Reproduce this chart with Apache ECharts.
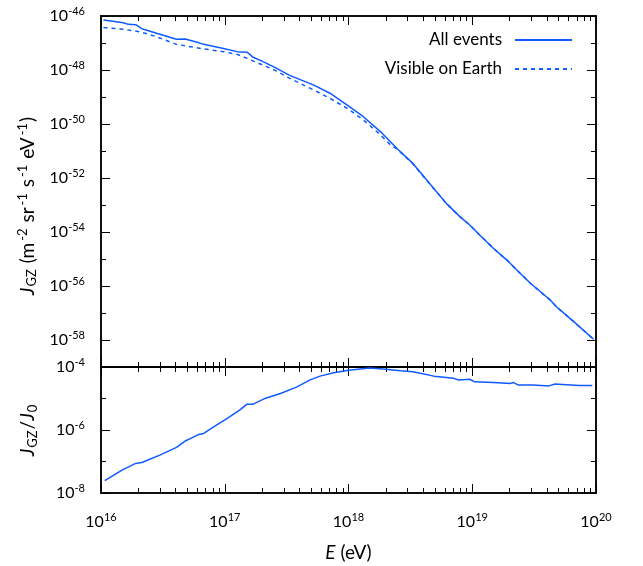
<!DOCTYPE html>
<html>
<head>
<meta charset="utf-8">
<script src="https://cdn.jsdelivr.net/npm/echarts@6/dist/echarts.min.js"></script>
<style>
html, body { margin: 0; padding: 0; background: #fff; }
#chart { width: 643px; height: 566px; }
</style>
</head>
<body>
<div id="chart"></div>
<script>
// all values are powers of ten (log10)
var eAll = [16.02, 16.18, 16.22, 16.28, 16.33, 16.45, 16.61, 16.68, 16.77, 16.83, 16.99, 17.10, 17.18, 17.23, 17.31, 17.42, 17.52, 17.72, 17.85, 17.99, 18.12, 18.26, 18.39, 18.52, 18.62, 18.79, 18.90, 18.98, 19.06, 19.17, 19.28, 19.36, 19.47, 19.63, 19.68, 19.82, 19.98];
var jAll = [-46.15, -46.25, -46.31, -46.32, -46.47, -46.64, -46.86, -46.85, -46.96, -47.05, -47.20, -47.32, -47.34, -47.53, -47.69, -47.94, -48.19, -48.56, -48.86, -49.30, -49.73, -50.29, -50.90, -51.46, -52.01, -52.94, -53.43, -53.74, -54.11, -54.60, -55.04, -55.41, -55.90, -56.52, -56.77, -57.32, -57.97];

var eVis = [16.02, 16.18, 16.32, 16.45, 16.61, 16.83, 16.99, 17.10, 17.18, 17.31, 17.42, 17.50, 17.58, 17.72, 17.85, 17.99, 18.12, 18.26, 18.34, 18.39, 18.52, 18.62, 18.79, 18.90, 18.98, 19.06, 19.17, 19.28, 19.36, 19.47, 19.63, 19.68, 19.82, 19.98];
var jVis = [-46.43, -46.49, -46.59, -46.77, -47.05, -47.22, -47.32, -47.42, -47.57, -47.82, -48.04, -48.25, -48.43, -48.74, -49.05, -49.42, -49.85, -50.41, -50.78, -50.92, -51.47, -52.02, -52.94, -53.43, -53.74, -54.11, -54.60, -55.04, -55.41, -55.90, -56.52, -56.77, -57.32, -57.97];

var eRatio = [16.03, 16.18, 16.22, 16.28, 16.33, 16.48, 16.61, 16.68, 16.73, 16.79, 16.83, 16.91, 17.02, 17.12, 17.18, 17.23, 17.33, 17.45, 17.58, 17.69, 17.77, 17.88, 18.00, 18.17, 18.28, 18.42, 18.52, 18.58, 18.69, 18.85, 18.89, 18.98, 19.02, 19.17, 19.31, 19.33, 19.37, 19.49, 19.62, 19.67, 19.76, 19.87, 19.97];
var ratio = [-7.61, -7.25, -7.18, -7.06, -7.03, -6.79, -6.55, -6.35, -6.26, -6.14, -6.11, -5.90, -5.63, -5.37, -5.18, -5.18, -4.99, -4.84, -4.64, -4.41, -4.29, -4.18, -4.10, -4.03, -4.06, -4.12, -4.15, -4.20, -4.29, -4.36, -4.41, -4.39, -4.47, -4.49, -4.52, -4.49, -4.57, -4.57, -4.60, -4.54, -4.56, -4.59, -4.59];

// tick positions (exponents)
var xMajor = [16, 17, 18, 19, 20];
var topMajor = [-58, -56, -54, -52, -50, -48, -46];
var topMinor = [-57, -55, -53, -51, -49, -47];
var botMajor = [-8, -6, -4];
var botMinor = [-7, -5];
var xMinor = [];
for (var n = 16; n < 20; n++) {
  for (var k = 2; k <= 9; k++) xMinor.push(n + Math.log10(k));
}

var FONT = 'Lato, "Open Sans", sans-serif';
var BLUE = '#0f5bff';

var powRich = {
  b: { fontFamily: FONT, fontSize: 16, color: '#000', lineHeight: 20 },
  s: { fontFamily: FONT, fontSize: 11, color: '#000', lineHeight: 10, verticalAlign: 'top' }
};
function powLabel(v) {
  return '{b|10}{s|' + Math.round(v) + '}';
}
var nameRich = {
  t: { fontFamily: FONT, fontSize: 19, color: '#000', lineHeight: 22 },
  i: { fontFamily: FONT, fontSize: 19, fontStyle: 'italic', color: '#000', lineHeight: 22 },
  sub: { fontFamily: FONT, fontSize: 13, color: '#000', lineHeight: 12, verticalAlign: 'bottom', padding: [0, 1, 0, 1] },
  sup: { fontFamily: FONT, fontSize: 13, color: '#000', lineHeight: 12, verticalAlign: 'top', padding: [0, 1, 0, 2] }
};

function axis(grid, pos, min, max, ticks, len, labels) {
  return {
    type: 'value', gridIndex: grid, position: pos, min: min, max: max,
    axisLine: { show: true, onZero: false, lineStyle: { color: '#000', width: 1.5 } },
    axisTick: { show: true, inside: true, length: len, customValues: ticks, lineStyle: { color: '#000', width: 1 } },
    axisLabel: labels ? { show: true, customValues: ticks, margin: labels, formatter: powLabel, rich: powRich } : { show: false },
    splitLine: { show: false }
  };
}

var xAxes = [
  axis(0, 'bottom', 16, 20, xMajor, 9, 0),
  axis(0, 'bottom', 16, 20, xMinor, 5, 0),
  axis(0, 'top', 16, 20, xMajor, 9, 0),
  axis(0, 'top', 16, 20, xMinor, 5, 0),
  axis(1, 'bottom', 16, 20, xMajor, 9, 19),
  axis(1, 'bottom', 16, 20, xMinor, 5, 0),
  axis(1, 'top', 16, 20, xMajor, 9, 0),
  axis(1, 'top', 16, 20, xMinor, 5, 0)
];
xAxes[4].name = '{i|E}{t| (eV)}';
xAxes[4].nameLocation = 'middle';
xAxes[4].nameGap = 49;
xAxes[4].nameTextStyle = { rich: nameRich };

var yAxes = [
  axis(0, 'left', -59, -46, topMajor, 9, 16),
  axis(0, 'left', -59, -46, topMinor, 5, 0),
  axis(0, 'right', -59, -46, topMajor, 9, 0),
  axis(0, 'right', -59, -46, topMinor, 5, 0),
  axis(1, 'left', -8, -4, botMajor, 9, 16),
  axis(1, 'left', -8, -4, botMinor, 5, 0),
  axis(1, 'right', -8, -4, botMajor, 9, 0),
  axis(1, 'right', -8, -4, botMinor, 5, 0)
];
yAxes[0].name = '{i|J}{sub|GZ}{t| (m}{sup|-2}{t| sr}{sup|-1}{t| s}{sup|-1}{t| eV}{sup|-1}{t|)}';
yAxes[4].name = '{i|J}{sub|GZ}{t|/}{i|J}{sub|0}';
[0, 4].forEach(function (i) {
  yAxes[i].nameLocation = 'middle';
  yAxes[i].nameRotate = 90;
  yAxes[i].nameGap = 62;
  yAxes[i].nameTextStyle = { rich: nameRich };
});
yAxes[0].nameTextStyle.padding = [0, 29, 0, 0];

function pairs(xs, ys) {
  return xs.map(function (x, i) { return [x, ys[i]]; });
}

var chart = echarts.init(document.getElementById('chart'));
chart.setOption({
  animation: false,
  backgroundColor: '#fff',
  grid: [
    { left: 101, right: 47, top: 16, height: 351 },
    { left: 101, right: 47, top: 367, height: 126 }
  ],
  legend: {
    data: ['All events', 'Visible on Earth'],
    orient: 'vertical', align: 'right', right: 70, top: 30, padding: 0,
    itemWidth: 57, itemHeight: 14, itemGap: 9,
    itemStyle: { opacity: 0 },
    textStyle: { fontFamily: FONT, fontSize: 17, color: '#000', lineHeight: 20, padding: [0, 8, 0, 0] }
  },
  xAxis: xAxes,
  yAxis: yAxes,
  series: [
    {
      name: 'All events', type: 'line', xAxisIndex: 0, yAxisIndex: 0,
      data: pairs(eAll, jAll), symbol: 'none',
      lineStyle: { color: BLUE, width: 1.5 }, itemStyle: { color: BLUE }
    },
    {
      name: 'Visible on Earth', type: 'line', xAxisIndex: 0, yAxisIndex: 0,
      data: pairs(eVis, jVis), symbol: 'none',
      lineStyle: { color: BLUE, width: 1.5, type: [4, 4] }, itemStyle: { color: BLUE }
    },
    {
      name: 'ratio', type: 'line', xAxisIndex: 4, yAxisIndex: 4,
      data: pairs(eRatio, ratio), symbol: 'none',
      lineStyle: { color: BLUE, width: 1.5 }, itemStyle: { color: BLUE }
    }
  ]
});
</script>
</body>
</html>
